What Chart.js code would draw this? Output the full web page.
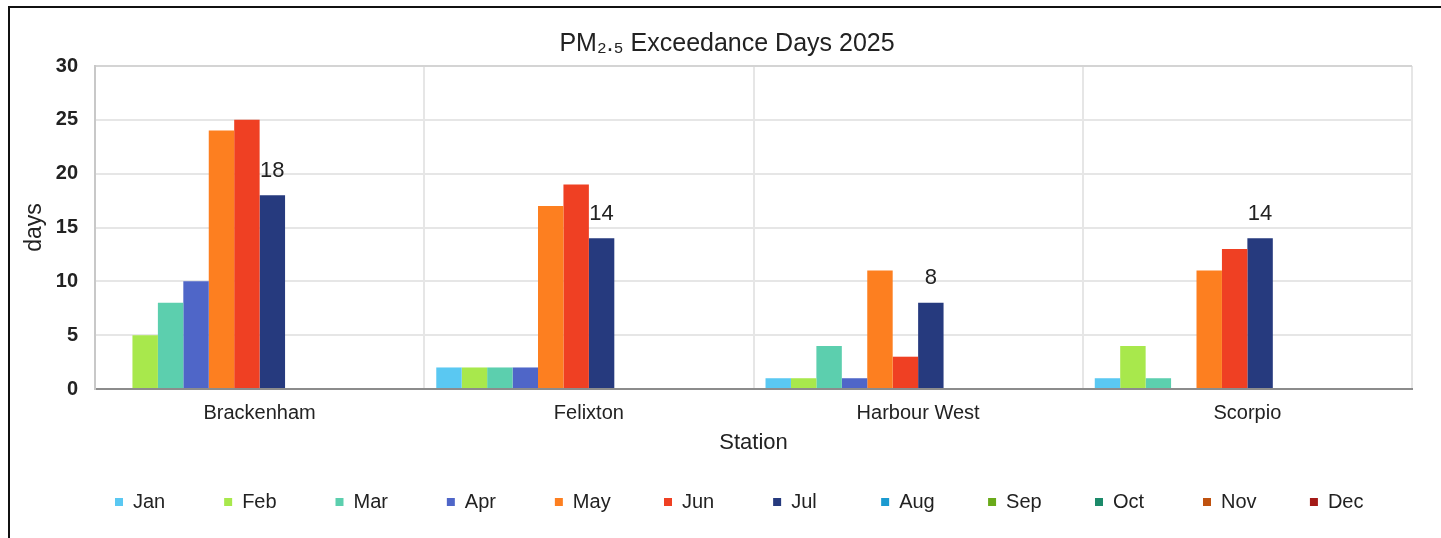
<!DOCTYPE html>
<html>
<head>
<meta charset="utf-8">
<script src="https://cdn.jsdelivr.net/npm/chart.js@4.4.1/dist/chart.umd.min.js"></script>
<style>
    html, body { margin: 0; padding: 0; background: #fff; overflow: hidden; }
    #wrap { position: relative; width: 1441px; height: 538px; }
    #frame { position: absolute; left: 8px; top: 6px; width: 1500px; height: 600px;
             border-left: 2px solid #111; border-top: 2px solid #111; }
    #chart { position: absolute; left: 0; top: 0; }
</style>
</head>
<body>
<div id="wrap">
    <div id="frame"></div>
    <canvas id="chart" width="1441" height="538"></canvas>
</div>
<script>
const stations = ['Brackenham', 'Felixton', 'Harbour West', 'Scorpio'];
const months = ['Jan', 'Feb', 'Mar', 'Apr', 'May', 'Jun', 'Jul', 'Aug', 'Sep', 'Oct', 'Nov', 'Dec'];

const jan = [0, 2, 1, 1];
const feb = [5, 2, 1, 4];
const mar = [8, 2, 4, 1];
const apr = [10, 2, 1, 0];
const may = [24, 17, 11, 11];
const jun = [25, 19, 3, 13];
const jul = [18, 14, 8, 14];
const aug = [0, 0, 0, 0];
const sep = [0, 0, 0, 0];
const oct = [0, 0, 0, 0];
const nov = [0, 0, 0, 0];
const dec = [0, 0, 0, 0];

const yTicks = [0, 5, 10, 15, 20, 25, 30];

const monthColors = ['#5ac8f2', '#a8e84c', '#5ccfae', '#4f66c8', '#fd7f20', '#ef4023',
                     '#263a7e', '#1b9ad0', '#6aaa1a', '#1c8a6a', '#bf520f', '#a41a17'];

const FONT = "'Liberation Sans', Arial, sans-serif";
const TEXT = '#222';

const series = [jan, feb, mar, apr, may, jun, jul, aug, sep, oct, nov, dec];

// Jul values are labelled above their bars
const julLabels = {
    id: 'julLabels',
    afterLayout(chart) {
        // title is centred a little left of the plot area in the original
        if (chart.titleBlock) chart.titleBlock.left = 42;
    },
    afterDatasetsDraw(chart) {
        const meta = chart.getDatasetMeta(6);
        const ctx = chart.ctx;
        ctx.save();
        ctx.font = `22px ${FONT}`;
        ctx.fillStyle = TEXT;
        ctx.textAlign = 'center';
        ctx.textBaseline = 'alphabetic';
        meta.data.forEach((bar, i) => {
            ctx.fillText(String(jul[i]), bar.x, bar.y - 18.5);
        });
        ctx.restore();
    }
};

// pad legend texts so the items sit on an even pitch
const measureCtx = document.createElement('canvas').getContext('2d');
measureCtx.font = `20px ${FONT}`;
function padLabel(text, target) {
    let t = text;
    while (measureCtx.measureText(t + ' ').width <= target + 2) t += ' ';
    return t;
}

const ctx = document.getElementById('chart');
new Chart(ctx, {
    type: 'bar',
    data: {
        labels: stations,
        datasets: series.map((values, i) => ({
            label: months[i],
            data: values,
            backgroundColor: monthColors[i],
            borderWidth: 0,
            categoryPercentage: 0.927,
            barPercentage: 1.0
        }))
    },
    options: {
        responsive: false,
        animation: false,
        devicePixelRatio: 1,
        layout: { padding: { left: 0, right: 29, top: 0, bottom: 16 } },
        plugins: {
            title: {
                display: true,
                text: 'PM₂.₅ Exceedance Days 2025',
                color: TEXT,
                font: { family: FONT, size: 25, weight: 'normal' },
                padding: { top: 29, bottom: 7 }
            },
            legend: {
                position: 'bottom',
                align: 'start',
                fullSize: false,
                labels: {
                    color: TEXT,
                    font: { family: FONT, size: 20 },
                    boxWidth: 8,
                    boxHeight: 8,
                    padding: 20,
                    generateLabels(chart) {
                        const items = Chart.defaults.plugins.legend.labels.generateLabels(chart);
                        items.forEach((item, i) => {
                            item.lineWidth = 0;
                            if (i < items.length - 1) item.text = padLabel(item.text, 72);
                        });
                        return items;
                    }
                }
            },
            tooltip: { enabled: false }
        },
        scales: {
            x: {
                afterFit(scale) { scale.height = 83; },
                grid: {
                    offset: true,
                    drawTicks: false,
                    lineWidth: 2,
                    color: (c) => (c.index === stations.length ? '#cfcfcf' : '#e6e6e6')
                },
                border: { display: true, color: '#8c8c8c', width: 2 },
                ticks: { color: TEXT, font: { family: FONT, size: 20 }, padding: 12 },
                title: {
                    display: true,
                    text: 'Station',
                    color: TEXT,
                    font: { family: FONT, size: 22 },
                    padding: { top: 0, bottom: 15.8 }
                }
            },
            y: {
                min: 0,
                max: 30,
                afterFit(scale) { scale.width = 95; },
                afterBuildTicks(scale) { scale.ticks = yTicks.map(v => ({ value: v })); },
                grid: {
                    drawTicks: false,
                    lineWidth: 2,
                    color: (c) => (c.tick && c.tick.value === 30 ? '#d4d4d4' : '#e6e6e6')
                },
                border: { display: true, color: '#c8c8c8', width: 2 },
                ticks: { color: TEXT, font: { family: FONT, size: 20, weight: 'bold' }, padding: 17 },
                title: {
                    display: true,
                    text: 'days',
                    color: TEXT,
                    font: { family: FONT, size: 23 },
                    padding: { top: 21, bottom: 0 }
                }
            }
        }
    },
    plugins: [julLabels]
});
</script>
</body>
</html>
